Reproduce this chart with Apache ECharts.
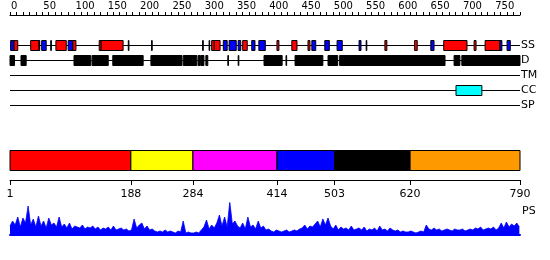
<!DOCTYPE html>
<html><head><meta charset="utf-8">
<script src="https://cdn.jsdelivr.net/npm/echarts@6/dist/echarts.min.js"></script>
<style>html,body{margin:0;padding:0;background:#fff}#c{width:550px;height:260px}</style>
</head><body><div id="c"></div>
<script>
// ---------------- data ----------------
const seqLength = 790;
const rulerLabels = [0,50,100,150,200,250,300,350,400,450,500,550,600,650,700,750];
const trackNames = ['SS','D','TM','CC','SP'];
const ssHelix = [[7,13],[33,46],[72,88],[98,103],[139,142],[142,176],[313,317],[317,326],[361,368],[414,417],[437,445],[462,465],[581,584],[627,631],[672,708],[719,722],[736,759]];
const ssStrand = [[2,7],[46,47],[50,57],[64,65],[91,98],[184,185],[220,221],[299,300],[309,310],[331,337],[340,351],[354,358],[375,380],[386,396],[468,474],[488,495],[507,515],[541,544],[552,553],[652,657],[759,762],[770,775]];
const disorder = [[1,8],[18,26],[100,126],[128,153],[160,207],[219,267],[269,290],[292,295],[296,301],[304,307],[338,339],[354,355],[394,422],[428,429],[442,485],[493,508],[511,674],[688,697],[700,790]];
const transmembrane = [];
const coiledCoil = [[691,731]];
const signalPeptide = [];
const domainBounds = [1,188,284,414,503,620,790];
const psStart = 1, psStep = 4;
const psValues = [
 9,14,10,18,8,17,12,29,
 10,16,8,19,9,14,7,17,10,12,8,18,
 8,11,7,12,6,9,8,7,10,6,8,7,9,6,8,
 5,7,6,8,5,9,5,6,7,5,6,4,
 5,16,7,10,12,6,9,5,6,4,
 3,4,3,5,3,4,3,2,4,3,
 14,
 2,3,2,2,3,2,
 5,8,15,6,10,7,12,20,
 9,18,8,33,11,14,9,
 7,12,6,18,8,10,6,14,7,9,5,6,
 4,3,5,4,3,4,5,3,4,5,4,6,
 7,10,6,9,8,11,
 14,8,16,10,17,9,
 6,10,5,8,6,7,5,9,5,6,7,
 5,8,4,6,5,7,4,9,5,6,4,7,5,4,5,
 3,4,3,3,4,3,2,3,4,3,
 10,
 6,5,7,5,6,4,5,6,5,4,6,5,5,6,4,5,
 6,5,7,6,8,5,6,7,6,8,5,7,
 12,7,13,8,11,9,12,8
];

// ---------------- styles ----------------
const FONT = 'DejaVu Sans';
const domainColors = ['#ff0000','#ffff00','#ff00ff','#0000ff','#000000','#ff9900'];

// build feature rows
const featRows = [];
ssHelix.forEach(s => featRows.push([s[0], s[1], 0, '#ff0000']));
ssStrand.forEach(s => featRows.push([s[0], s[1], 0, '#0000ff']));
disorder.forEach(s => featRows.push([s[0], s[1], 1, '#000000']));
transmembrane.forEach(s => featRows.push([s[0], s[1], 2, '#00ff00']));
coiledCoil.forEach(s => featRows.push([s[0], s[1], 3, '#00ffff']));
signalPeptide.forEach(s => featRows.push([s[0], s[1], 4, '#ff00ff']));

const domainRows = [];
for (let i = 0; i < domainBounds.length - 1; i++) domainRows.push([domainBounds[i], domainBounds[i+1], i]);

const psData = psValues.map((v, i) => [psStart + i * psStep, v]);
const rulerTicks = [];
for (let t = 0; t <= seqLength; t += 10) rulerTicks.push(t);

const chart = echarts.init(document.getElementById('c'), null, {renderer: 'canvas'});
const hiddenX = (gi) => ({gridIndex: gi, type: 'value', min: 1, max: seqLength, show: false});

chart.setOption({
  animation: false,
  grid: [
    {left: 10, width: 510, top: 0, height: 15, outerBoundsMode: 'none'},          // ruler
    {left: 10, width: 510, top: 37.5, height: 75, outerBoundsMode: 'none'},       // tracks
    {left: 10, width: 510, top: 150, height: 30, outerBoundsMode: 'none'},        // domains
    {left: 10, width: 510, top: 203, height: 32, outerBoundsMode: 'none'}         // PS
  ],
  xAxis: [
    {gridIndex: 0, type: 'value', min: 0, max: seqLength, position: 'bottom',
     axisLine: {show: true, lineStyle: {color: '#000', width: 1}},
     axisTick: {show: true, inside: true, length: 3, customValues: rulerTicks, lineStyle: {color: '#000'}},
     axisLabel: {show: true, inside: true, margin: 4, align: 'left', padding: [0,0,0,1], customValues: rulerLabels, color: '#000', fontFamily: FONT, fontSize: 10},
     splitLine: {show: false}},
    hiddenX(1),
    {gridIndex: 2, type: 'value', min: 1, max: seqLength, position: 'bottom',
     axisLine: {show: true, lineStyle: {color: '#000', width: 1}},
     axisTick: {show: true, length: 5, customValues: domainBounds, lineStyle: {color: '#000'}},
     axisLabel: {show: true, margin: 9, customValues: domainBounds, color: '#000', fontFamily: FONT, fontSize: 11},
     splitLine: {show: false}},
    {gridIndex: 3, type: 'value', min: 1, max: seqLength, position: 'bottom',
     axisLine: {show: true, lineStyle: {color: '#0000ff', width: 2}},
     axisTick: {show: false}, axisLabel: {show: false}, splitLine: {show: false}}
  ],
  yAxis: [
    {gridIndex: 0, type: 'value', show: false},
    {gridIndex: 1, type: 'category', data: trackNames, inverse: true, position: 'right',
     axisLine: {show: false}, axisTick: {show: false}, splitLine: {show: false},
     axisLabel: {margin: 1, color: '#000', fontFamily: FONT, fontSize: 11}},
    {gridIndex: 2, type: 'value', min: 0, max: 3, show: false},
    {gridIndex: 3, type: 'value', min: 0, max: 32, show: false}
  ],
  graphic: [
    {type: 'text', left: 522, top: 206, style: {text: 'PS', fill: '#000', font: '11px "DejaVu Sans"'}}
  ],
  series: [
    { // track base lines
      type: 'custom', xAxisIndex: 1, yAxisIndex: 1, silent: true,
      data: trackNames.map((n, i) => [1, seqLength, i]),
      renderItem: (p, api) => {
        const a = api.coord([api.value(0), api.value(2)]);
        const b = api.coord([api.value(1), api.value(2)]);
        const y = Math.round(a[1]) + 0.5;
        return {type: 'line', shape: {x1: a[0], y1: y, x2: b[0], y2: y}, style: {stroke: '#000', lineWidth: 1}};
      }
    },
    { // feature boxes
      type: 'custom', xAxisIndex: 1, yAxisIndex: 1, silent: true,
      data: featRows,
      renderItem: (p, api) => {
        const a = api.coord([api.value(0), api.value(2)]);
        const b = api.coord([api.value(1), api.value(2)]);
        const h = api.size([0, 1])[1] * 2 / 3;
        const y = Math.round(a[1] - h / 2) + 0.5;
        return {type: 'rect', shape: {x: a[0], y: y, width: Math.max(b[0] - a[0], 0.5), height: h},
                style: {fill: featRows[p.dataIndex][3], stroke: '#000', lineWidth: 1}};
      }
    },
    { // domain bar
      type: 'custom', xAxisIndex: 2, yAxisIndex: 2, silent: true,
      data: domainRows,
      renderItem: (p, api) => {
        const a = api.coord([api.value(0), 3]);
        const b = api.coord([api.value(1), 1]);
        return {type: 'rect', shape: {x: a[0], y: a[1] + 0.5, width: b[0] - a[0], height: b[1] - a[1]},
                style: {fill: domainColors[api.value(2)], stroke: '#000', lineWidth: 1}};
      }
    },
    { // PS profile
      type: 'line', xAxisIndex: 3, yAxisIndex: 3, data: psData, showSymbol: false, silent: true,
      lineStyle: {color: '#0000ff', width: 0.8}, areaStyle: {color: '#0000ff', opacity: 1}
    }
  ]
});
</script></body></html>
